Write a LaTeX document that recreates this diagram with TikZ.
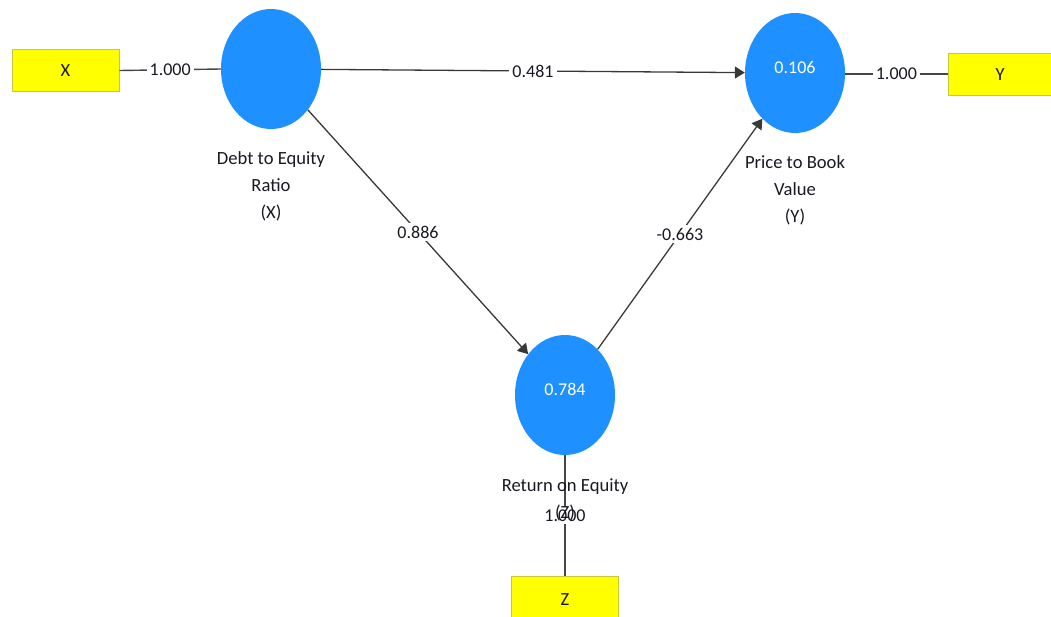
\documentclass[tikz,border=0pt]{standalone}
\usepackage{fontspec}
\setmainfont{Carlito}
\usetikzlibrary{shapes.geometric,arrows.meta}
\definecolor{lvblue}{RGB}{30,144,255}
\definecolor{indyellow}{RGB}{255,255,0}
\definecolor{indborder}{RGB}{200,200,60}
\definecolor{edgegray}{RGB}{70,70,70}
\definecolor{labeltext}{RGB}{25,25,35}
\tikzset{
  latent/.style={ellipse, fill=lvblue, draw=none, minimum width=100pt, minimum height=120pt, inner sep=0pt,
                 text=white, font=\fontsize{18}{22}\selectfont},
  indicator/.style={rectangle, fill=indyellow, draw=indborder, line width=1pt, minimum width=107pt,
                    minimum height=42pt, inner sep=0pt, font=\fontsize{18.5}{22}\selectfont, text=labeltext},
  loading/.style={draw=edgegray, line width=1.4pt},
  path/.style={draw=edgegray!80!black, line width=1.3pt, -{Triangle[length=10pt,width=12pt]}},
  coef/.style={fill=white, inner sep=3pt, text=labeltext, font=\fontsize{18}{22}\selectfont},
  lvname/.style={align=center, text=labeltext, font=\fontsize{18.6}{27}\selectfont, inner sep=0pt}
}
\begin{document}
\begin{tikzpicture}[x=1pt,y=-1pt]
  \useasboundingbox (0,0) rectangle (1051,616);
  \clip (0,0) rectangle (1051,616);

  % latent variables
  \node[latent] (lx) at (271,69) {};
  \node[latent] (ly) at (795,73) {};
  \node[latent] (lz) at (565,395) {};
  \node[text=white, font=\fontsize{18}{22}\selectfont] (ry) at (795,67) {0.106};
  \node[text=white, font=\fontsize{18}{22}\selectfont] (rz) at (565,389) {0.784};

  % indicators
  \node[indicator] (ix) at (65.5,70.5) {X};
  \node[indicator] (iy) at (1001.5,74) {};
  \node[font=\fontsize{18.5}{22}\selectfont, text=labeltext] (iyt) at (1000,75) {Y};
  \node[indicator] (iz) at (565,597) {};
  \node[font=\fontsize{18.5}{22}\selectfont, text=labeltext] (izt) at (565,600) {Z};

  % outer loadings
  \draw[loading] (ix.east) -- node[coef] {1.000} (lx.west);
  \draw[loading] (ly.east |- iy.west) -- node[coef] {1.000} (iy.west);
  \draw[loading] (lz.south) -- node[coef, pos=0.5] {1.000} (iz.north);

  % structural paths
  \draw[path] (lx) -- node[coef] {0.481} (ly);
  \draw[path] (lx) -- node[coef] {0.886} (lz);
  \draw[path] (lz) -- node[coef] {-0.663} (ly);

  % construct names
  \node[lvname] (nx) at (271,186) {Debt to Equity\\Ratio\\(X)};
  \node[lvname] (ny) at (795,190) {Price to Book\\Value\\(Y)};
  \node[lvname] (nz) at (565,500) {Return on Equity\\(Z)};
\end{tikzpicture}
\end{document}
